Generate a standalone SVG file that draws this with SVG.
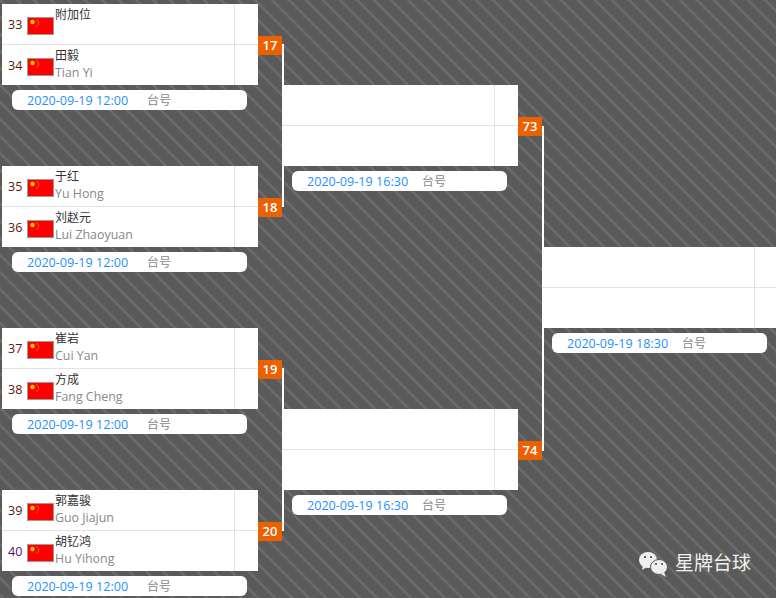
<svg xmlns="http://www.w3.org/2000/svg" width="776" height="598" viewBox="0 0 776 598">
<defs>
<pattern id="bg" width="17" height="17" patternUnits="userSpaceOnUse">
<rect width="17" height="17" fill="#5a5a5a"/>
<path d="M-5 -5L22 22M-5 12L5 22M12 -5L22 5" stroke="#6b6b6b" stroke-width="2.600" fill="none"/>
</pattern>
<g id="flag"><rect x="0.5" y="0.5" width="26" height="17" fill="#f00" stroke="#999"/><circle cx="5.500" cy="5" r="2.200" fill="#fc0"/><circle cx="10" cy="3" r=".7" fill="#f80"/><circle cx="11.500" cy="5" r=".7" fill="#f80"/><circle cx="11.500" cy="7" r=".7" fill="#f80"/><circle cx="10" cy="9" r=".7" fill="#f80"/></g>
</defs>
<style>
text{font-family:"Open Sans","Noto Sans CJK SC",sans-serif;font-size:12.600px}
.p{fill:#fff}.l{stroke:#e2e2e2;fill:none}
.s{fill:#60150f}.n{fill:#333;font-family:"Noto Sans CJK SC",sans-serif;font-size:12px}.e{fill:#888;font-size:12.400px}
.d{fill:#1e90ff}.t{fill:#888;font-family:"Noto Sans CJK SC",sans-serif;font-size:12px}.b{fill:#eb6100}.bn{fill:#fff;font-weight:600;text-anchor:middle;font-size:13px}
.c{stroke:#fff;stroke-width:2;fill:none}
</style>
<rect width="776" height="598" fill="url(#bg)"/>
<g id="connectors">
<path class="c" d="M283 44V207M543 126V451M283 368V531"/>
</g>
<g id="m17"><rect class="p" x="2" y="4" width="256" height="81"/><path class="l" d="M2 44.500H258M234.500 4V85"/>
<text class="s" x="8" y="29">33</text><use href="#flag" x="27" y="17"/><text class="n" x="55" y="19">附加位</text>
<text class="s" x="8" y="70">34</text><use href="#flag" x="27" y="58"/><text class="n" x="55" y="60">田毅</text><text class="e" x="55" y="77">Tian Yi</text>
<rect class="p" x="12" y="90" width="235" height="20" rx="6"/><text class="d" x="27" y="105">2020-09-19 12:00</text><text class="t" x="147" y="105">台号</text>
<rect class="b" x="258" y="36" width="24" height="19"/><text class="bn" x="270" y="50">17</text></g>
<g id="m18"><rect class="p" x="2" y="166" width="256" height="81"/><path class="l" d="M2 206.500H258M234.500 166V247"/>
<text class="s" x="8" y="191">35</text><use href="#flag" x="27" y="179"/><text class="n" x="55" y="181">于红</text><text class="e" x="55" y="198">Yu Hong</text>
<text class="s" x="8" y="232">36</text><use href="#flag" x="27" y="220"/><text class="n" x="55" y="222">刘赵元</text><text class="e" x="55" y="239">Lui Zhaoyuan</text>
<rect class="p" x="12" y="252" width="235" height="20" rx="6"/><text class="d" x="27" y="267">2020-09-19 12:00</text><text class="t" x="147" y="267">台号</text>
<rect class="b" x="258" y="198" width="24" height="19"/><text class="bn" x="270" y="212">18</text></g>
<g id="m19"><rect class="p" x="2" y="328" width="256" height="81"/><path class="l" d="M2 368.500H258M234.500 328V409"/>
<text class="s" x="8" y="353">37</text><use href="#flag" x="27" y="341"/><text class="n" x="55" y="343">崔岩</text><text class="e" x="55" y="360">Cui Yan</text>
<text class="s" x="8" y="394">38</text><use href="#flag" x="27" y="382"/><text class="n" x="55" y="384">方成</text><text class="e" x="55" y="401">Fang Cheng</text>
<rect class="p" x="12" y="414" width="235" height="20" rx="6"/><text class="d" x="27" y="429">2020-09-19 12:00</text><text class="t" x="147" y="429">台号</text>
<rect class="b" x="258" y="360" width="24" height="19"/><text class="bn" x="270" y="374">19</text></g>
<g id="m20"><rect class="p" x="2" y="490" width="256" height="81"/><path class="l" d="M2 530.500H258M234.500 490V571"/>
<text class="s" x="8" y="515">39</text><use href="#flag" x="27" y="503"/><text class="n" x="55" y="505">郭嘉骏</text><text class="e" x="55" y="522">Guo Jiajun</text>
<text class="s" x="8" y="556" style="fill:#4b0f70">40</text><use href="#flag" x="27" y="544"/><text class="n" x="55" y="546">胡钇鸿</text><text class="e" x="55" y="563">Hu Yihong</text>
<rect class="p" x="12" y="576" width="235" height="20" rx="6"/><text class="d" x="27" y="591">2020-09-19 12:00</text><text class="t" x="147" y="591">台号</text>
<rect class="b" x="258" y="522" width="24" height="19"/><text class="bn" x="270" y="536">20</text></g>
<g id="m73"><rect class="p" x="282" y="85" width="236" height="81"/><path class="l" d="M282 125.500H518M494.500 85V166"/>
<rect class="p" x="292" y="171" width="215" height="20" rx="6"/><text class="d" x="307" y="186">2020-09-19 16:30</text><text class="t" x="422" y="186">台号</text>
<rect class="b" x="518" y="117" width="24" height="19"/><text class="bn" x="530" y="131">73</text></g>
<g id="m74"><rect class="p" x="282" y="409" width="236" height="81"/><path class="l" d="M282 449.500H518M494.500 409V490"/>
<rect class="p" x="292" y="495" width="215" height="20" rx="6"/><text class="d" x="307" y="510">2020-09-19 16:30</text><text class="t" x="422" y="510">台号</text>
<rect class="b" x="518" y="441" width="24" height="19"/><text class="bn" x="530" y="455">74</text></g>
<g id="final"><rect class="p" x="542" y="247" width="234" height="81"/><path class="l" d="M542 287.500H776M754.500 247V328"/>
<rect class="p" x="552" y="333" width="215" height="20" rx="6"/><text class="d" x="567" y="348">2020-09-19 18:30</text><text class="t" x="682" y="348">台号</text></g>
<g id="watermark"><ellipse cx="648" cy="560" rx="9" ry="8" fill="#eee"/><path d="M643 565l-1 5 5-3z" fill="#eee"/><circle cx="645" cy="557" r="1.100" fill="#444"/><circle cx="651" cy="557" r="1.100" fill="#444"/><ellipse cx="659" cy="567" rx="8.500" ry="7.500" fill="#eee" stroke="#5a5a5a"/><path d="M664 572l2 5-5-3z" fill="#eee"/><circle cx="656" cy="564" r="1" fill="#444"/><circle cx="662" cy="564" r="1" fill="#444"/>
<text x="675" y="570" style="font-family:'Noto Sans CJK SC',sans-serif;font-size:19px;fill:#f0f0f0">星牌台球</text></g>
</svg>
